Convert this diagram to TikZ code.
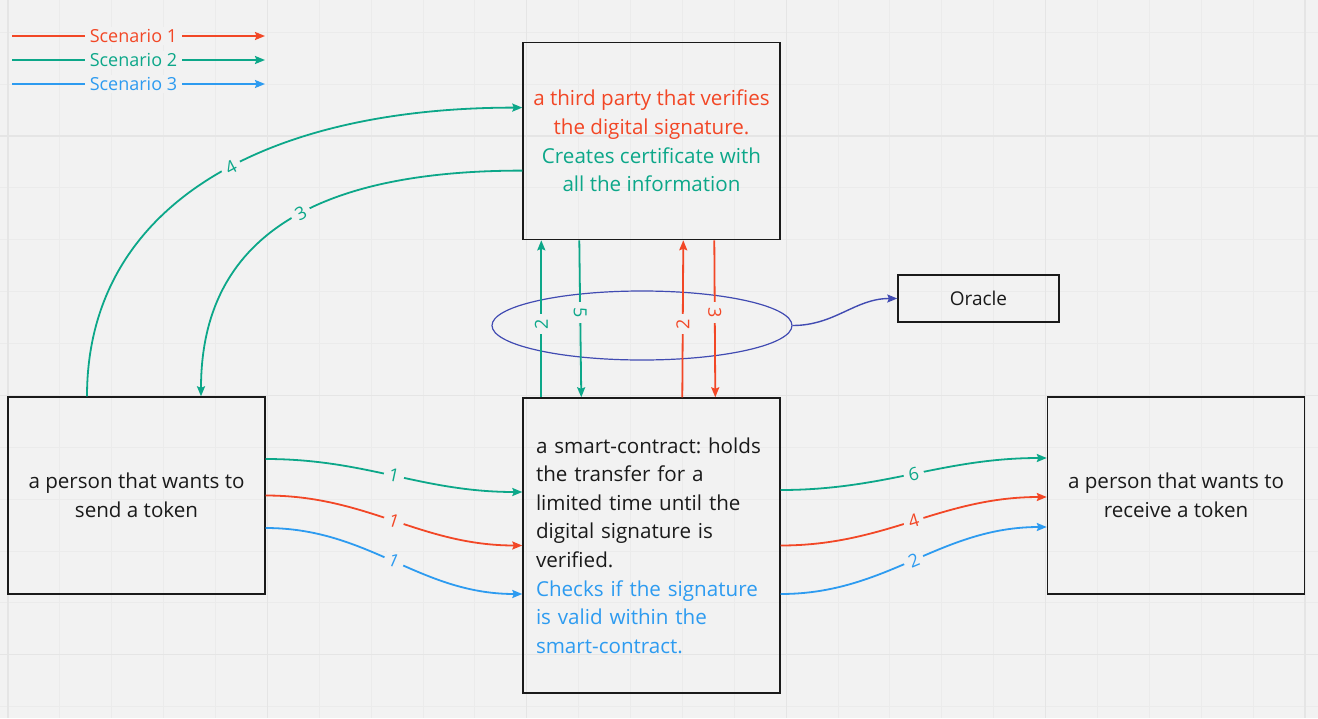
\documentclass[tikz,border=0pt]{standalone}
\usepackage{fontspec}
\setmainfont{Open Sans}
\usepackage{tikz}
\usetikzlibrary{shapes.geometric, arrows.meta, positioning}
\frenchspacing

\definecolor{bgcol}{RGB}{242,242,242}
\definecolor{gridminor}{RGB}{235,235,235}
\definecolor{gridmajor}{RGB}{229,229,229}
\definecolor{scred}{HTML}{F24726}
\definecolor{scgreen}{HTML}{0CA789}
\definecolor{scblue}{HTML}{2D9BF0}
\definecolor{oraclecol}{HTML}{414BB2}
\definecolor{inkcol}{HTML}{1A1A1A}

\tikzset{
  box/.style={rectangle, draw=inkcol, line width=1.4pt, minimum width=257pt, minimum height=197pt, inner sep=0pt, align=center, text=inkcol, font=\fontsize{20.6}{28.6}\selectfont},
  flow/.style={line width=1.8pt, ->},
  lbl/.style={fill=bgcol, inner xsep=5pt, inner ysep=2pt, font=\fontsize{18}{20}\selectfont},
}

\begin{document}
\begin{tikzpicture}[x=1pt, y=-1pt, >={Stealth[length=10pt,width=8pt,inset=1.5pt]}]
\useasboundingbox (0,0) rectangle (1318,718);
% background and grid
\fill[bgcol] (0,0) rectangle (1318,718);
\foreach \k in {0,...,25} \draw[gridminor, line width=1pt] ({8+51.88*\k},0) -- ({8+51.88*\k},718);
\foreach \k in {0,...,13} \draw[gridminor, line width=1pt] (0,{32.24+51.88*\k}) -- (1318,{32.24+51.88*\k});
\foreach \k in {0,...,5} \draw[gridmajor, line width=1.2pt] ({8+259.4*\k},0) -- ({8+259.4*\k},718);
\foreach \y in {136.0,395.4,654.8} \draw[gridmajor, line width=1.2pt] (0,\y) -- (1318,\y);

% legend
\coordinate (s1a) at (12,36);
\coordinate (s1b) at (265,36);
\coordinate (s2a) at (12,60);
\coordinate (s2b) at (265,60);
\coordinate (s3a) at (12,84);
\coordinate (s3b) at (265,84);
\draw[flow, scred] (s1a) -- node[lbl, pos=0.48] {Scenario 1} (s1b);
\draw[flow, scgreen] (s2a) -- node[lbl, pos=0.48] {Scenario 2} (s2b);
\draw[flow, scblue] (s3a) -- node[lbl, pos=0.48] {Scenario 3} (s3b);

% boxes
\node (sender) [box] at (136.5,495.5) {a person that wants to\\send a token};
\node (contract) [box, minimum height=295pt, text width=231pt, align=left] at (651.5,545.5) {a smart-contract: holds\\the transfer for a\\limited time until the\\digital signature is\\verified.\\\textcolor{scblue}{Checks if the signature}\\\textcolor{scblue}{is valid within the}\\\textcolor{scblue}{smart-contract.}};
\node (verifier) [box, above=157pt of contract] {\textcolor{scred}{a third party that verifies}\\\textcolor{scred}{the digital signature.}\\\textcolor{scgreen}{Creates certificate with}\\\textcolor{scgreen}{all the information}};
\node (receiver) [box] at (1176,495.5) {a person that wants to\\receive a token};
\node (oracle) [box, minimum width=161pt, minimum height=47pt, font=\fontsize{19}{22}\selectfont] at (978.5,298.5) {Oracle};
\node (oraclering) [ellipse, draw=oraclecol, line width=1.2pt, minimum width=300pt, minimum height=69pt, inner sep=0pt] at (642,325.5) {};

% sender to contract
\draw[flow, scgreen] ([yshift=36.5pt]sender.east) to[out=0, in=180] node[lbl, sloped] {1} ([yshift=53.5pt]contract.west);
\draw[flow, scred] (sender.east) to[out=0, in=180] node[lbl, sloped] {1} (contract.west);
\draw[flow, scblue] ([yshift=-32.5pt]sender.east) to[out=0, in=180] node[lbl, sloped] {1} ([yshift=-48.5pt]contract.west);

% contract to receiver
\draw[flow, scgreen] ([yshift=55.5pt]contract.east) to[out=0, in=180] node[lbl, sloped] {6} ([yshift=37.5pt]receiver.west);
\draw[flow, scred] (contract.east) to[out=0, in=180] node[lbl, sloped] {4} ([yshift=-1.5pt]receiver.west);
\draw[flow, scblue] ([yshift=-48.5pt]contract.east) to[out=0, in=180] node[lbl, sloped] {2} ([yshift=-31.5pt]receiver.west);

% sender and verifier
\draw[flow, scgreen] ([xshift=-49.5pt]sender.north) .. controls +(0,-190) and +(-260,0) .. node[lbl, sloped, pos=0.55] {4} ([yshift=33.5pt]verifier.west);
\draw[flow, scgreen] ([yshift=-29.5pt]verifier.west) .. controls +(-190,0) and +(0,-170) .. node[lbl, sloped, pos=0.47] {3} ([xshift=64.5pt]sender.north);

% contract and verifier
\draw[flow, scgreen] ([xshift=19pt]contract.north west) -- node[lbl, pos=0.465, rotate=90] {2} ([xshift=19pt]verifier.south west);
\draw[flow, scgreen] ([xshift=57pt]verifier.south west) -- node[lbl, pos=0.46, rotate=-90] {5} ([xshift=59pt]contract.north west);
\draw[flow, scred] ([xshift=160pt]contract.north west) -- node[lbl, pos=0.465, rotate=90] {2} ([xshift=161pt]verifier.south west);
\draw[flow, scred] ([xshift=192pt]verifier.south west) -- node[lbl, pos=0.46, rotate=-90] {3} ([xshift=193pt]contract.north west);

% oracle
\draw[->, line width=1.4pt, oraclecol] (oraclering.east) to[out=0, in=180] (oracle.west);
\end{tikzpicture}
\end{document}
